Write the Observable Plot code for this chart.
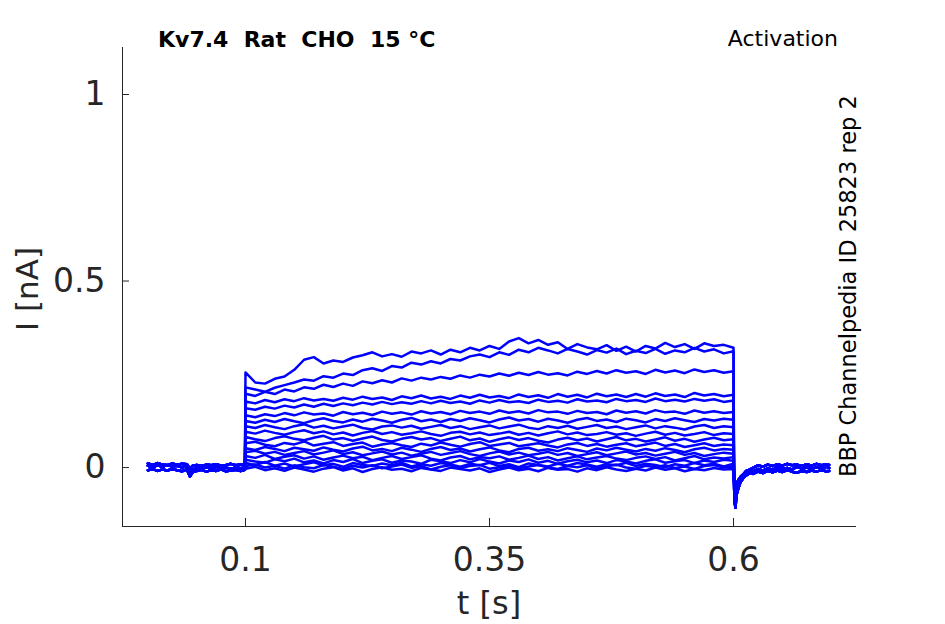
<!DOCTYPE html>
<html><head><meta charset="utf-8">
<script src="https://cdn.jsdelivr.net/npm/d3@7"></script>
<script src="https://cdn.jsdelivr.net/npm/@observablehq/plot@0.6"></script>
<style>body{margin:0;background:#fff;}</style>
</head><body><div id="chart"></div>
<script>
// Time grids (s)
const tPre = [0, 0.005, 0.01, 0.015, 0.02, 0.025, 0.03, 0.035, 0.04, 0.043, 0.046, 0.05, 0.055, 0.06, 0.065, 0.07, 0.075, 0.08, 0.085, 0.09, 0.095, 0.0995];
const tStep = [0.1, 0.11, 0.12, 0.13, 0.14, 0.15, 0.16, 0.17, 0.18, 0.19,
               0.2, 0.21, 0.22, 0.23, 0.24, 0.25, 0.26, 0.27, 0.28, 0.29,
               0.3, 0.31, 0.32, 0.33, 0.34, 0.35, 0.36, 0.37, 0.38, 0.39,
               0.4, 0.41, 0.42, 0.43, 0.44, 0.45, 0.46, 0.47, 0.48, 0.49,
               0.5, 0.51, 0.52, 0.53, 0.54, 0.55, 0.56, 0.57, 0.58, 0.59, 0.6];
const tPost = [0.6005, 0.601, 0.602, 0.603, 0.605, 0.607, 0.61, 0.613, 0.617, 0.62, 0.625, 0.63, 0.635, 0.64, 0.645, 0.65, 0.655, 0.66, 0.665, 0.67, 0.675, 0.68, 0.685, 0.69, 0.695, 0.698];

// Holding current before the step (nA), three overlapping variants
const preA = [0.005, 0.001, 0.006, 0.002, 0.007, 0.003, 0.005, 0.0, 0.004, -0.014, -0.005, -0.001, -0.004, 0.001, -0.003, 0.002, -0.002, 0.0, -0.004, 0.001, -0.002, 0.0];
const preB = [-0.007, -0.004, -0.009, -0.005, -0.008, -0.004, -0.007, -0.01, -0.005, -0.024, -0.012, -0.009, -0.006, -0.011, -0.007, -0.009, -0.005, -0.01, -0.008, -0.006, -0.009, -0.006];
const preC = [0.011, 0.007, 0.012, 0.008, 0.006, 0.011, 0.007, 0.01, 0.009, -0.003, 0.005, 0.007, 0.004, 0.008, 0.006, 0.009, 0.005, 0.007, 0.01, 0.006, 0.008, 0.006];

// Tail currents after the step (nA)
const postA = [-0.04, -0.09, -0.108, -0.075, -0.055, -0.04, -0.028, -0.02, -0.013, -0.01, -0.004, -0.008, -0.002, -0.006, 0.001, -0.004, -0.001, -0.005, 0.002, -0.003, 0.0, -0.004, 0.001, -0.002, 0.002, -0.001];
const postB = [-0.03, -0.055, -0.07, -0.05, -0.038, -0.027, -0.018, -0.009, -0.005, -0.001, 0.006, 0.002, 0.008, 0.004, 0.009, 0.005, 0.01, 0.006, 0.008, 0.004, 0.009, 0.005, 0.01, 0.006, 0.008, 0.007];
const postC = [-0.02, -0.04, -0.055, -0.045, -0.033, -0.025, -0.018, -0.021, -0.014, -0.017, -0.011, -0.015, -0.009, -0.013, -0.008, -0.012, -0.007, -0.011, -0.014, -0.009, -0.012, -0.008, -0.011, -0.007, -0.01, -0.009];

// Currents during the voltage step, one list per sweep (nA)
const stepCurrents = [
  [0.255, 0.228, 0.225, 0.238, 0.244, 0.262, 0.289, 0.296, 0.279, 0.287,
   0.283, 0.295, 0.301, 0.309, 0.298, 0.304, 0.297, 0.311, 0.306, 0.314,
   0.303, 0.316, 0.309, 0.321, 0.314, 0.326, 0.318, 0.338, 0.347, 0.333,
   0.342, 0.329, 0.336, 0.318, 0.331, 0.322, 0.317, 0.328, 0.313, 0.324,
   0.311, 0.326, 0.319, 0.334, 0.323, 0.331, 0.318, 0.333, 0.326, 0.329, 0.321],
  [0.215, 0.209, 0.203, 0.214, 0.221, 0.228, 0.236, 0.233, 0.245, 0.241,
   0.252, 0.248, 0.261, 0.266, 0.259, 0.272, 0.268, 0.281, 0.276, 0.285,
   0.279, 0.291, 0.287, 0.298, 0.303, 0.296, 0.309, 0.302, 0.316, 0.309,
   0.321, 0.314, 0.306, 0.318, 0.311, 0.303, 0.315, 0.308, 0.319, 0.304,
   0.313, 0.307, 0.318, 0.305, 0.314, 0.309, 0.321, 0.311, 0.317, 0.306, 0.312],
  [0.198, 0.192, 0.203, 0.197, 0.209, 0.204, 0.215, 0.211, 0.222, 0.216,
   0.225, 0.219, 0.231, 0.226, 0.234, 0.228, 0.239, 0.233, 0.241, 0.236,
   0.243, 0.238, 0.247, 0.241, 0.249, 0.244, 0.252, 0.246, 0.254, 0.248,
   0.256, 0.249, 0.253, 0.247, 0.257, 0.251, 0.259, 0.252, 0.261, 0.254,
   0.258, 0.251, 0.262, 0.255, 0.26, 0.253, 0.263, 0.256, 0.261, 0.254, 0.258],
  [0.177, 0.172, 0.181, 0.175, 0.183, 0.178, 0.186, 0.18, 0.184, 0.179,
   0.187, 0.182, 0.19, 0.184, 0.188, 0.181, 0.191, 0.186, 0.193, 0.185,
   0.19, 0.184, 0.193, 0.187, 0.195, 0.188, 0.192, 0.186, 0.196, 0.189,
   0.194, 0.187, 0.197, 0.19, 0.195, 0.188, 0.198, 0.191, 0.196, 0.189,
   0.197, 0.19, 0.199, 0.192, 0.196, 0.189, 0.2, 0.193, 0.197, 0.191, 0.195],
  [0.159, 0.155, 0.163, 0.158, 0.166, 0.161, 0.169, 0.163, 0.171, 0.165,
   0.172, 0.167, 0.174, 0.169, 0.176, 0.17, 0.175, 0.171, 0.178, 0.172,
   0.179, 0.173, 0.177, 0.171, 0.18, 0.174, 0.181, 0.175, 0.178, 0.173,
   0.182, 0.176, 0.179, 0.174, 0.183, 0.177, 0.18, 0.175, 0.184, 0.178,
   0.181, 0.176, 0.185, 0.178, 0.182, 0.177, 0.184, 0.179, 0.183, 0.176, 0.18],
  [0.14, 0.135, 0.143, 0.138, 0.146, 0.14, 0.148, 0.142, 0.145, 0.139,
   0.149, 0.143, 0.147, 0.141, 0.15, 0.144, 0.148, 0.142, 0.151, 0.145,
   0.149, 0.143, 0.152, 0.146, 0.15, 0.144, 0.153, 0.147, 0.151, 0.145,
   0.154, 0.148, 0.15, 0.144, 0.152, 0.146, 0.149, 0.143, 0.153, 0.147,
   0.151, 0.145, 0.154, 0.148, 0.15, 0.144, 0.153, 0.147, 0.151, 0.146, 0.149],
  [0.125, 0.12, 0.128, 0.122, 0.13, 0.124, 0.119, 0.127, 0.132, 0.125,
   0.121, 0.129, 0.123, 0.131, 0.126, 0.12, 0.128, 0.133, 0.124, 0.129,
   0.122, 0.13, 0.125, 0.132, 0.127, 0.121, 0.129, 0.134, 0.126, 0.13,
   0.123, 0.131, 0.126, 0.12, 0.128, 0.133, 0.125, 0.129, 0.122, 0.131,
   0.127, 0.121, 0.13, 0.125, 0.132, 0.127, 0.122, 0.13, 0.126, 0.131, 0.128],
  [0.111, 0.106, 0.114, 0.108, 0.103, 0.111, 0.116, 0.107, 0.112, 0.105,
   0.11, 0.115, 0.106, 0.102, 0.11, 0.113, 0.107, 0.112, 0.104, 0.109,
   0.114, 0.106, 0.111, 0.103, 0.108, 0.113, 0.105, 0.11, 0.115, 0.107,
   0.103, 0.111, 0.106, 0.112, 0.104, 0.109, 0.114, 0.106, 0.11, 0.103,
   0.108, 0.113, 0.105, 0.111, 0.107, 0.102, 0.11, 0.114, 0.106, 0.111, 0.108],
  [0.096, 0.091, 0.099, 0.093, 0.088, 0.095, 0.1, 0.092, 0.097, 0.089,
   0.094, 0.086, 0.093, 0.098, 0.09, 0.095, 0.088, 0.092, 0.097, 0.09,
   0.085, 0.093, 0.096, 0.089, 0.094, 0.087, 0.091, 0.096, 0.088, 0.093,
   0.086, 0.092, 0.097, 0.089, 0.094, 0.087, 0.09, 0.095, 0.088, 0.092,
   0.085, 0.091, 0.096, 0.088, 0.093, 0.086, 0.09, 0.095, 0.087, 0.092, 0.09],
  [0.082, 0.076, 0.071, 0.079, 0.084, 0.077, 0.073, 0.08, 0.085, 0.075,
   0.079, 0.072, 0.078, 0.083, 0.074, 0.07, 0.077, 0.082, 0.075, 0.079,
   0.071, 0.077, 0.083, 0.073, 0.078, 0.069, 0.076, 0.081, 0.074, 0.079,
   0.072, 0.067, 0.075, 0.08, 0.073, 0.078, 0.07, 0.076, 0.082, 0.073,
   0.077, 0.07, 0.075, 0.081, 0.072, 0.077, 0.069, 0.075, 0.08, 0.073, 0.076],
  [0.065, 0.069, 0.061, 0.057, 0.066, 0.062, 0.07, 0.059, 0.064, 0.068,
   0.058, 0.063, 0.067, 0.056, 0.062, 0.066, 0.06, 0.055, 0.064, 0.059,
   0.067, 0.061, 0.056, 0.063, 0.068, 0.058, 0.062, 0.066, 0.057, 0.061,
   0.065, 0.059, 0.054, 0.062, 0.066, 0.058, 0.063, 0.056, 0.061, 0.065,
   0.057, 0.062, 0.067, 0.058, 0.063, 0.055, 0.06, 0.065, 0.058, 0.062, 0.06],
  [0.052, 0.047, 0.055, 0.05, 0.044, 0.053, 0.049, 0.045, 0.054, 0.048,
   0.043, 0.051, 0.056, 0.046, 0.05, 0.044, 0.053, 0.048, 0.042, 0.05,
   0.055, 0.047, 0.051, 0.043, 0.049, 0.054, 0.046, 0.041, 0.05, 0.053,
   0.045, 0.049, 0.044, 0.052, 0.047, 0.042, 0.051, 0.046, 0.053, 0.048,
   0.043, 0.05, 0.045, 0.052, 0.047, 0.041, 0.049, 0.053, 0.046, 0.05, 0.048],
  [0.041, 0.045, 0.037, 0.042, 0.034, 0.039, 0.044, 0.035, 0.04, 0.046,
   0.036, 0.041, 0.033, 0.038, 0.043, 0.035, 0.04, 0.032, 0.037, 0.042,
   0.034, 0.039, 0.044, 0.036, 0.031, 0.038, 0.043, 0.035, 0.04, 0.033,
   0.037, 0.042, 0.034, 0.039, 0.031, 0.036, 0.041, 0.033, 0.038, 0.043,
   0.035, 0.039, 0.032, 0.037, 0.042, 0.034, 0.039, 0.031, 0.036, 0.04, 0.037],
  [0.031, 0.026, 0.034, 0.023, 0.029, 0.033, 0.024, 0.03, 0.021, 0.027,
   0.032, 0.025, 0.029, 0.02, 0.026, 0.031, 0.023, 0.028, 0.033, 0.024,
   0.019, 0.027, 0.031, 0.022, 0.028, 0.025, 0.03, 0.021, 0.026, 0.032,
   0.023, 0.028, 0.019, 0.025, 0.03, 0.022, 0.027, 0.031, 0.024, 0.02,
   0.026, 0.03, 0.023, 0.028, 0.019, 0.025, 0.031, 0.022, 0.027, 0.024, 0.028],
  [0.021, 0.016, 0.013, 0.022, 0.017, 0.024, 0.014, 0.019, 0.011, 0.02,
   0.015, 0.023, 0.012, 0.018, 0.022, 0.013, 0.019, 0.016, 0.01, 0.021,
   0.017, 0.012, 0.02, 0.014, 0.023, 0.016, 0.011, 0.019, 0.015, 0.022,
   0.013, 0.018, 0.01, 0.017, 0.021, 0.014, 0.019, 0.012, 0.02, 0.016,
   0.011, 0.018, 0.022, 0.013, 0.017, 0.02, 0.012, 0.019, 0.015, 0.021, 0.018],
  [0.012, 0.007, 0.015, 0.005, 0.011, 0.003, 0.009, 0.014, 0.006, 0.01,
   0.002, 0.012, 0.007, 0.004, 0.011, 0.006, 0.013, 0.003, 0.009, 0.005,
   0.012, 0.008, 0.002, 0.01, 0.006, 0.013, 0.004, 0.009, 0.001, 0.011,
   0.007, 0.003, 0.01, 0.005, 0.012, 0.008, 0.002, 0.009, 0.006, 0.013,
   0.004, 0.01, 0.007, 0.001, 0.009, 0.005, 0.012, 0.006, 0.01, 0.003, 0.01],
  [0.004, 0.008, 0.0, 0.005, -0.003, 0.006, 0.001, -0.002, 0.007, 0.002,
   -0.004, 0.005, 0.0, 0.006, -0.002, 0.003, 0.008, -0.001, 0.004, -0.005,
   0.002, 0.006, -0.001, 0.004, 0.007, -0.003, 0.001, 0.005, -0.002, 0.003,
   0.007, 0.0, -0.004, 0.004, 0.001, 0.006, -0.002, 0.003, 0.008, 0.0,
   -0.003, 0.005, 0.001, 0.006, -0.001, 0.003, -0.004, 0.004, 0.007, 0.0, 0.003],
  [-0.003, 0.002, -0.007, -0.002, -0.009, 0.0, -0.005, -0.011, -0.003, 0.001,
   -0.008, -0.002, -0.012, -0.004, 0.001, -0.006, -0.003, -0.01, -0.001, -0.005,
   -0.009, 0.0, -0.004, -0.008, -0.002, -0.012, -0.005, 0.0, -0.007, -0.003,
   -0.01, -0.001, -0.006, -0.004, -0.011, -0.002, -0.007, 0.001, -0.005, -0.009,
   -0.003, -0.008, 0.0, -0.006, -0.002, -0.01, -0.004, -0.007, -0.001, -0.005, -0.004]
];

const xTicks = [0.1, 0.35, 0.6];
const yTicks = [0, 0.5, 1];
const xDomain = [-0.026, 0.726];
const yDomain = [-0.158, 1.126];

const pres = [preA, preB, preC];
const posts = [postA, postB, postC];
const rows = [];
stepCurrents.forEach((vals, i) => {
  const pre = pres[i % 3], post = posts[i % 3];
  tPre.forEach((t, j) => rows.push({sweep: i, t, I: pre[j]}));
  tStep.forEach((t, j) => { if (vals[j] !== undefined) rows.push({sweep: i, t, I: vals[j]}); });
  tPost.forEach((t, j) => rows.push({sweep: i, t, I: post[j]}));
});

const axisColor = "#262626";
const chart = Plot.plot({
  width: 945, height: 624,
  marginLeft: 122, marginRight: 89, marginTop: 47, marginBottom: 98,
  style: {fontFamily: "DejaVu Sans", background: "#fff", color: axisColor},
  x: {domain: xDomain, label: null},
  y: {domain: yDomain, label: null},
  marks: [
    Plot.line(rows, {x: "t", y: "I", z: "sweep", stroke: "#0000ff", strokeWidth: 2.5, curve: "linear"}),
    Plot.ruleX([xDomain[0]], {stroke: axisColor, strokeWidth: 1}),
    Plot.ruleY([yDomain[0]], {stroke: axisColor, strokeWidth: 1}),
    Plot.axisX({ticks: xTicks, tickSize: -8, tickPadding: 29, fontSize: 33, stroke: axisColor, fill: axisColor, label: null, tickFormat: d => String(d)}),
    Plot.axisY({ticks: yTicks, tickSize: -7, tickPadding: 24, fontSize: 33, stroke: axisColor, fill: axisColor, label: null, tickFormat: d => String(d)})
  ]
});
document.getElementById("chart").appendChild(chart);

const svg = d3.select(chart);
const ff = "DejaVu Sans";
svg.append("text").attr("x", 158).attr("y", 47).attr("font-family", ff).attr("font-size", 22).attr("font-weight", "bold")
  .attr("text-anchor", "start").attr("fill", "#000").style("white-space", "pre").text("Kv7.4  Rat  CHO  15 °C");
svg.append("text").attr("x", 838).attr("y", 46).attr("font-family", ff).attr("font-size", 22)
  .attr("text-anchor", "end").attr("fill", "#000").text("Activation");
svg.append("text").attr("transform", "translate(856,477) rotate(-90)").attr("font-family", ff).attr("font-size", 22.5)
  .attr("text-anchor", "start").attr("fill", "#000").text("BBP Channelpedia ID 25823 rep 2");
svg.append("text").attr("x", 489).attr("y", 614).attr("font-family", ff).attr("font-size", 32)
  .attr("text-anchor", "middle").attr("fill", axisColor).text("t [s]");
svg.append("text").attr("transform", "translate(38,289) rotate(-90)").attr("font-family", ff).attr("font-size", 31)
  .attr("text-anchor", "middle").attr("fill", axisColor).text("I [nA]");
</script></body></html>
